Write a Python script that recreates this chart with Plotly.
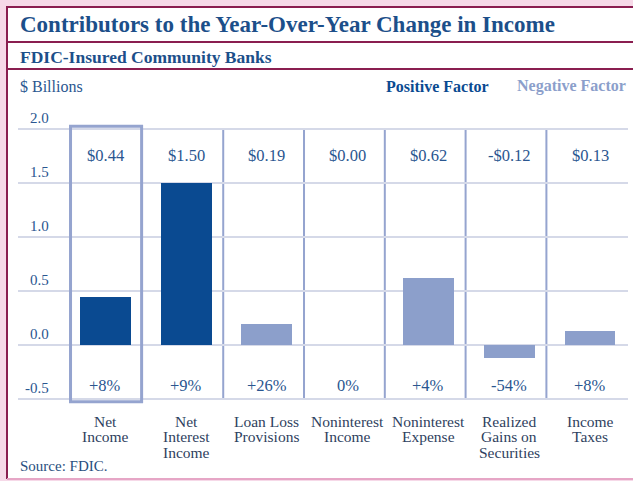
import plotly.graph_objects as go

categories = ["Net<br>Income", "Net<br>Interest<br>Income", "Loan Loss<br>Provisions",
              "Noninterest<br>Income", "Noninterest<br>Expense",
              "Realized<br>Gains on<br>Securities", "Income<br>Taxes"]
values = [0.44, 1.50, 0.19, 0.00, 0.62, -0.12, 0.13]
factor = ["pos", "pos", "neg", "neg", "neg", "neg", "neg"]
value_labels = ["$0.44", "$1.50", "$0.19", "$0.00", "$0.62", "-$0.12", "$0.13"]
pct_labels = ["+8%", "+9%", "+26%", "0%", "+4%", "-54%", "+8%"]
y_ticks = [2.0, 1.5, 1.0, 0.5, 0.0, -0.5]
y_tick_text = ["2.0", "1.5", "1.0", "0.5", "0.0", "-0.5"]

W, H = 633, 481
L, R, T, B = 18, 5, 124, 77
PW, PH = W - L - R, H - T - B

def px(x):
    return (x - L) / PW

def py(y):
    return (H - B - y) / PH

DARK = "#0a4a91"
LIGHT = "#8c9fcb"
GRID = "#d5d9e8"
SEP = "#95a4cf"
TXT = "#2a5690"
CAT = "#2f3f60"
MAROON = "#8a1e50"
PINK = "#f6d9e8"
FONT = "Liberation Serif"

colors = [DARK if f == "pos" else LIGHT for f in factor]
xs = list(range(len(categories)))

fig = go.Figure()
fig.add_trace(go.Bar(x=xs, y=values, marker=dict(color=colors, line=dict(width=0)),
                     width=0.63, hoverinfo="skip"))

shapes = [
    dict(type="rect", xref="paper", yref="paper", x0=px(7), x1=px(634), y0=py(7), y1=py(478),
         fillcolor="white", line=dict(width=0), layer="below"),
]
# separators
for i in range(1, len(categories) - 1):
    shapes.append(dict(type="line", xref="x", yref="y", x0=i + 0.46, x1=i + 0.46,
                       y0=-0.5, y1=2.0, line=dict(color=SEP, width=2), layer="below"))
# Net income box
shapes.append(dict(type="rect", xref="x", yref="y", x0=-0.43, x1=0.45, y0=-0.53, y1=2.03,
                   line=dict(color=SEP, width=3)))
# frame lines
shapes += [
    dict(type="line", xref="paper", yref="paper", x0=px(7), x1=px(7), y0=py(6), y1=py(479),
         line=dict(color=MAROON, width=2)),
    dict(type="line", xref="paper", yref="paper", x0=px(7), x1=px(634), y0=py(7), y1=py(7),
         line=dict(color=MAROON, width=2)),
    dict(type="line", xref="paper", yref="paper", x0=px(7), x1=px(634), y0=py(42), y1=py(42),
         line=dict(color=MAROON, width=2)),
    dict(type="line", xref="paper", yref="paper", x0=px(7), x1=px(634), y0=py(69), y1=py(69),
         line=dict(color=MAROON, width=2)),
    dict(type="line", xref="paper", yref="paper", x0=px(7), x1=px(634), y0=py(479), y1=py(479),
         line=dict(color="#e6a6c6", width=2)),
]

ann = []
for i, (v, p) in enumerate(zip(value_labels, pct_labels)):
    ann.append(dict(x=i, y=1.755, xref="x", yref="y", text=v, showarrow=False,
                    font=dict(family=FONT, size=16.5, color=TXT)))
    ann.append(dict(x=i, y=-0.375, xref="x", yref="y", text=p, showarrow=False,
                    font=dict(family=FONT, size=16.5, color=TXT)))
for yv, yt in zip(y_ticks, y_tick_text):
    ann.append(dict(x=px(51), y=yv, xref="paper", yref="y", text=yt, showarrow=False,
                    xanchor="right", yanchor="bottom", yshift=1,
                    font=dict(family=FONT, size=15, color=TXT)))
# category labels, one annotation per line for tight leading
for i, c in enumerate(categories):
    for k, line in enumerate(c.split("<br>")):
        ann.append(dict(x=i, y=py(421 + 15.5 * k), xref="x", yref="paper", text=line,
                        showarrow=False, xanchor="center", yanchor="middle",
                        font=dict(family=FONT, size=15.5, color=CAT)))

ann += [
    dict(x=px(18), y=py(25), xref="paper", yref="paper", text="<b>Contributors to the Year-Over-Year Change in Income</b>",
         showarrow=False, xanchor="left", yanchor="middle",
         font=dict(family=FONT, size=23, color="#1c4f8a")),
    dict(x=px(18), y=py(57), xref="paper", yref="paper", text="<b>FDIC-Insured Community Banks</b>",
         showarrow=False, xanchor="left", yanchor="middle",
         font=dict(family=FONT, size=17.5, color="#1c4f8a")),
    dict(x=px(18), y=py(86), xref="paper", yref="paper", text="$ Billions",
         showarrow=False, xanchor="left", yanchor="middle",
         font=dict(family=FONT, size=16, color=TXT)),
    dict(x=px(491), y=py(86), xref="paper", yref="paper", text="<b>Positive Factor</b>",
         showarrow=False, xanchor="right", yanchor="middle",
         font=dict(family=FONT, size=16, color=DARK)),
    dict(x=px(628), y=py(86), xref="paper", yref="paper", text="<b>Negative Factor</b>",
         showarrow=False, xanchor="right", yanchor="middle",
         font=dict(family=FONT, size=16, color=LIGHT)),
    dict(x=px(18), y=py(466), xref="paper", yref="paper", text="Source: FDIC.",
         showarrow=False, xanchor="left", yanchor="middle",
         font=dict(family=FONT, size=15, color="#2a4f80")),
]

fig.update_layout(
    width=W, height=H,
    margin=dict(l=L, r=R, t=T, b=B, pad=0),
    paper_bgcolor=PINK, plot_bgcolor="white",
    showlegend=False, bargap=0,
    shapes=shapes, annotations=ann,
    xaxis=dict(range=[-1.08, 6.47], tickvals=xs, showticklabels=False,
               showgrid=False, zeroline=False, showline=False, ticks=""),
    yaxis=dict(range=[-0.55, 2.05], tickvals=y_ticks, showticklabels=False,
               showgrid=True, gridcolor=GRID, gridwidth=2, zeroline=False, showline=False,
               ticks=""),
)

fig.write_html("out.html", config={"displayModeBar": False},
               post_script="document.body.style.margin='0';")
